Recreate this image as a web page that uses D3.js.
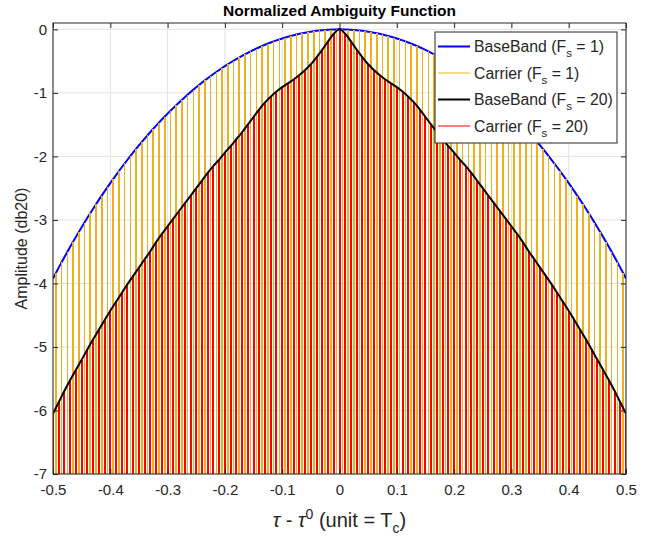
<!DOCTYPE html>
<html lang="en">
<head>
<meta charset="UTF-8">
<title>Normalized Ambiguity Function</title>
<script src="https://d3js.org/d3.v7.min.js"></script>
<style>
    body {
        margin: 0;
        background: #fff;
        font-family: "Liberation Sans", Arial, sans-serif;
    }
    svg text {
        fill: #262626;
    }
</style>
</head>
<body>
<div id="chart"></div>
<script>
    // axis ticks
    const xTicks = [-0.5, -0.4, -0.3, -0.2, -0.1, 0, 0.1, 0.2, 0.3, 0.4, 0.5];
    const yTicks = [0, -1, -2, -3, -4, -5, -6, -7];

    // sample positions (unit = Tc)
    const tau = d3.range(-50, 51).map(k => k / 100);
    const tauMid = d3.range(-50, 50).map(k => (k + 0.5) / 100);

    // BaseBand (Fs = 1), at tau
    const baseBand1 = [
        -3.922, -3.751, -3.585, -3.424, -3.267, -3.115, -2.967, -2.824, -2.685, -2.551,
        -2.420, -2.294, -2.171, -2.053, -1.938, -1.827, -1.720, -1.616, -1.516, -1.419,
        -1.326, -1.237, -1.151, -1.068, -0.988, -0.912, -0.839, -0.769, -0.703, -0.640,
        -0.579, -0.522, -0.468, -0.417, -0.369, -0.324, -0.282, -0.243, -0.207, -0.174,
        -0.143, -0.116, -0.092, -0.070, -0.052, -0.036, -0.023, -0.013, -0.006, -0.001,
        0,
        -0.001, -0.006, -0.013, -0.023, -0.036, -0.052, -0.070, -0.092, -0.116, -0.143,
        -0.174, -0.207, -0.243, -0.282, -0.324, -0.369, -0.417, -0.468, -0.522, -0.579,
        -0.640, -0.703, -0.769, -0.839, -0.912, -0.988, -1.068, -1.151, -1.237, -1.326,
        -1.419, -1.516, -1.616, -1.720, -1.827, -1.938, -2.053, -2.171, -2.294, -2.420,
        -2.551, -2.685, -2.824, -2.967, -3.115, -3.267, -3.424, -3.585, -3.751, -3.922
    ];

    // Carrier (Fs = 1) peaks, at tauMid
    const carrier1 = [
        -3.836, -3.668, -3.504, -3.345, -3.190, -3.041, -2.895, -2.754, -2.617, -2.485,
        -2.356, -2.232, -2.111, -1.995, -1.882, -1.773, -1.667, -1.565, -1.467, -1.372,
        -1.281, -1.193, -1.109, -1.028, -0.950, -0.875, -0.804, -0.736, -0.671, -0.609,
        -0.550, -0.495, -0.442, -0.393, -0.346, -0.303, -0.262, -0.224, -0.190, -0.158,
        -0.129, -0.104, -0.081, -0.060, -0.043, -0.029, -0.018, -0.009, -0.003, 0,
        0, -0.003, -0.009, -0.018, -0.029, -0.043, -0.060, -0.081, -0.104, -0.129,
        -0.158, -0.190, -0.224, -0.262, -0.303, -0.346, -0.393, -0.442, -0.495, -0.550,
        -0.609, -0.671, -0.736, -0.804, -0.875, -0.950, -1.028, -1.109, -1.193, -1.281,
        -1.372, -1.467, -1.565, -1.667, -1.773, -1.882, -1.995, -2.111, -2.232, -2.356,
        -2.485, -2.617, -2.754, -2.895, -3.041, -3.190, -3.345, -3.504, -3.668, -3.836
    ];

    // BaseBand (Fs = 20), at tau; Carrier (Fs = 20) peaks share these values
    const baseBand20 = [
        -6.05, -5.87, -5.69, -5.52, -5.36, -5.20, -5.04, -4.88, -4.73, -4.58,
        -4.43, -4.29, -4.15, -4.01, -3.88, -3.75, -3.62, -3.49, -3.35, -3.22,
        -3.10, -2.98, -2.86, -2.74, -2.62, -2.50, -2.38, -2.26, -2.15, -2.05,
        -1.94, -1.84, -1.73, -1.62, -1.50, -1.38, -1.26, -1.15, -1.06, -0.98,
        -0.91, -0.85, -0.79, -0.72, -0.64, -0.55, -0.44, -0.32, -0.19, -0.07,
        0,
        -0.07, -0.19, -0.32, -0.44, -0.55, -0.64, -0.72, -0.79, -0.85, -0.91,
        -0.98, -1.06, -1.15, -1.26, -1.38, -1.50, -1.62, -1.73, -1.84, -1.94,
        -2.05, -2.15, -2.26, -2.38, -2.50, -2.62, -2.74, -2.86, -2.98, -3.10,
        -3.22, -3.35, -3.49, -3.62, -3.75, -3.88, -4.01, -4.15, -4.29, -4.43,
        -4.58, -4.73, -4.88, -5.04, -5.20, -5.36, -5.52, -5.69, -5.87, -6.05
    ];

    const legendItems = [
        { label: "BaseBand (F", fs: "1", color: "#0000ff", width: 2 },
        { label: "Carrier (F", fs: "1", color: "#edb120", width: 1 },
        { label: "BaseBand (F", fs: "20", color: "#000000", width: 2 },
        { label: "Carrier (F", fs: "20", color: "#ff0000", width: 1 }
    ];

    const width = 662;
    const height = 542;
    const margin = { top: 23, right: 36, bottom: 68, left: 53 };
    const axisColor = "#262626";

    const svg = d3.select("#chart").append("svg")
        .attr("width", width)
        .attr("height", height);

    const x = d3.scaleLinear().domain([-0.5, 0.5]).range([margin.left, width - margin.right]);
    const y = d3.scaleLinear().domain([-7, 0.1]).range([height - margin.bottom, margin.top]);

    svg.append("defs").append("clipPath").attr("id", "plot-clip")
        .append("rect")
        .attr("x", x(-0.5)).attr("y", y(0.1))
        .attr("width", x(0.5) - x(-0.5)).attr("height", y(-7) - y(0.1));

    // grid
    const grid = svg.append("g").attr("stroke", "#e3e3e3").attr("stroke-width", 1);
    grid.selectAll("line.gx").data(xTicks).enter().append("line")
        .attr("x1", d => x(d)).attr("x2", d => x(d))
        .attr("y1", y(-7)).attr("y2", y(0.1));
    grid.selectAll("line.gy").data(yTicks).enter().append("line")
        .attr("x1", x(-0.5)).attr("x2", x(0.5))
        .attr("y1", d => y(d)).attr("y2", d => y(d));

    const plot = svg.append("g").attr("clip-path", "url(#plot-clip)");

    const line = d3.line().x(d => x(d[0])).y(d => y(d[1]));

    // BaseBand Fs = 1
    plot.append("path")
        .datum(tau.map((t, i) => [t, baseBand1[i]]))
        .attr("fill", "none")
        .attr("stroke", "#0000ff")
        .attr("stroke-width", 2)
        .attr("d", line);

    // Carrier Fs = 1
    plot.append("g").selectAll("line")
        .data(tauMid.map((t, i) => [t, carrier1[i]]))
        .enter().append("line")
        .attr("x1", d => x(d[0])).attr("x2", d => x(d[0]))
        .attr("y1", y(-7)).attr("y2", d => y(d[1]))
        .attr("stroke", "#edb120")
        .attr("stroke-width", 1.6)
        .attr("shape-rendering", "crispEdges");

    // Carrier Fs = 20
    plot.append("g").selectAll("line")
        .data(tau.map((t, i) => [t, baseBand20[i]]))
        .enter().append("line")
        .attr("x1", d => x(d[0])).attr("x2", d => x(d[0]))
        .attr("y1", y(-7)).attr("y2", d => y(d[1]))
        .attr("stroke", "#ff0000")
        .attr("stroke-width", 2)
        .attr("shape-rendering", "crispEdges");

    // BaseBand Fs = 20
    plot.append("path")
        .datum(tau.map((t, i) => [t, baseBand20[i]]))
        .attr("fill", "none")
        .attr("stroke", "#000000")
        .attr("stroke-width", 2)
        .attr("d", line.curve(d3.curveMonotoneX));

    // axes, ticks inside like MATLAB
    const fmt = d => d === 0 ? "0" : d3.format(".1f")(d).replace("−", "-");
    const fmtY = d => String(d);

    function styleAxis(g) {
        g.select(".domain").remove();
        g.selectAll(".tick line").attr("stroke", axisColor);
        g.selectAll(".tick text")
            .attr("fill", axisColor)
            .style("font-family", "'Liberation Sans', Arial, sans-serif")
            .style("font-size", "15px");
    }

    svg.append("g")
        .attr("transform", `translate(0,${y(-7)})`)
        .call(d3.axisBottom(x).tickValues(xTicks).tickSize(-5).tickPadding(10).tickFormat(fmt))
        .call(styleAxis);
    svg.append("g")
        .attr("transform", `translate(0,${y(0.1)})`)
        .call(d3.axisTop(x).tickValues(xTicks).tickSize(-5).tickFormat(""))
        .call(styleAxis);
    svg.append("g")
        .attr("transform", `translate(${x(-0.5)},0)`)
        .call(d3.axisLeft(y).tickValues(yTicks).tickSize(-5).tickPadding(6).tickFormat(fmtY))
        .call(styleAxis);
    svg.append("g")
        .attr("transform", `translate(${x(0.5)},0)`)
        .call(d3.axisRight(y).tickValues(yTicks).tickSize(-5).tickFormat(""))
        .call(styleAxis);

    svg.append("rect")
        .attr("x", x(-0.5)).attr("y", y(0.1))
        .attr("width", x(0.5) - x(-0.5)).attr("height", y(-7) - y(0.1))
        .attr("fill", "none")
        .attr("stroke", axisColor)
        .attr("stroke-width", 1);

    // title and labels
    svg.append("text")
        .attr("x", (x(-0.5) + x(0.5)) / 2)
        .attr("y", 16)
        .attr("text-anchor", "middle")
        .style("font-size", "15.5px")
        .style("font-weight", "bold")
        .style("fill", "#000")
        .text("Normalized Ambiguity Function");

    svg.append("text")
        .attr("transform", `translate(27,${(y(-7) + y(0.1)) / 2}) rotate(-90)`)
        .attr("text-anchor", "middle")
        .style("font-size", "16px")
        .text("Amplitude (db20)");

    const xl = svg.append("text")
        .attr("x", (x(-0.5) + x(0.5)) / 2)
        .attr("y", 527)
        .attr("text-anchor", "middle")
        .style("font-size", "20px");
    xl.append("tspan").style("font-style", "italic").text("τ");
    xl.append("tspan").text(" - ");
    xl.append("tspan").style("font-style", "italic").text("τ");
    xl.append("tspan").attr("dy", -8).style("font-size", "14px").text("0");
    xl.append("tspan").attr("dy", 8).text(" (unit = T");
    xl.append("tspan").attr("dy", 6).style("font-size", "14px").text("c");
    xl.append("tspan").attr("dy", -6).text(")");

    // legend
    const legend = svg.append("g");
    legend.append("rect")
        .attr("x", 435).attr("y", 32)
        .attr("width", 182).attr("height", 111)
        .attr("fill", "#fff")
        .attr("stroke", axisColor)
        .attr("stroke-width", 1);

    const rows = legend.selectAll("g.row").data(legendItems).enter().append("g")
        .attr("transform", (d, i) => `translate(438,${46.5 + i * 26.5})`);
    rows.append("line")
        .attr("x1", 0).attr("x2", 32)
        .attr("stroke", d => d.color)
        .attr("stroke-width", d => d.width);
    const lt = rows.append("text")
        .attr("x", 36)
        .attr("dy", "0.35em")
        .style("font-size", "15.8px");
    lt.append("tspan").text(d => d.label);
    lt.append("tspan").attr("dy", 5).style("font-size", "11.5px").text("s");
    lt.append("tspan").attr("dy", -5).text(d => " = " + d.fs + ")");
</script>
</body>
</html>
